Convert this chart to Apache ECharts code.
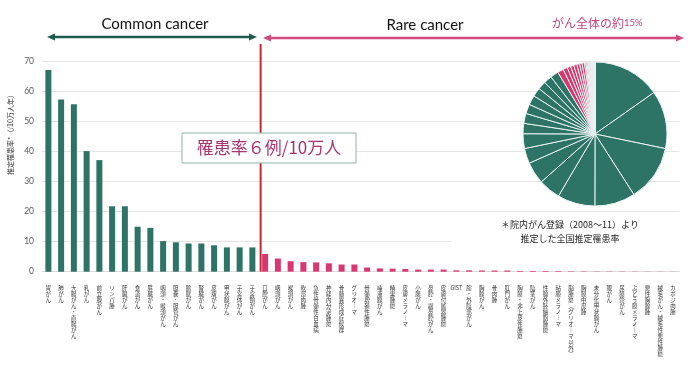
<!DOCTYPE html>
<html>
<head>
<meta charset="utf-8">
<script src="https://cdn.jsdelivr.net/npm/echarts@6/dist/echarts.min.js"></script>
<style>html,body{margin:0;padding:0;background:#fff}#c{width:700px;height:370px}</style>
</head>
<body>
<div id="c"></div>
<script>
const commonCats = ['胃がん','肺がん','大腸がん・直腸がん','乳がん','前立腺がん','リンパ腫','肝臓がん','食道がん','膵臓がん','咽頭・喉頭がん','胆嚢・胆管がん','膀胱がん','腎臓がん','皮膚がん','甲状腺がん','子宮体がん','子宮頸がん'];
const commonVals = [67.2,57.4,55.8,40.2,37.2,21.8,21.8,15.0,14.6,10.2,9.8,9.4,9.4,8.8,8.1,8.1,8.1];
const rareCats = ['口腔がん','咽頭がん','喉頭がん','軟部肉腫','急性骨髄性白血病','神経内分泌腫瘍','骨髄異形成症候群','グリオーマ','骨髄増殖性腫瘍','唾液腺がん','精巣腫瘍','皮膚メラノーマ','小腸がん','鼻腔・副鼻腔がん','皮膚付属器腫瘍','GIST','腟・外陰部がん','胸腺がん','骨肉腫','肛門がん','胸膜・非上皮性腫瘍','陰茎がん','性腺外胚細胞腫瘍','粘膜メラノーマ','脳腫瘍（グリオーマ以外）','胸膜中皮腫','未分化甲状腺がん','眼がん','尿膜管がん','ぶどう膜メラノーマ','悪性胸腺腫','絨毛がん・絨毛性悪性腫瘍','カポジ肉腫'];
const rareVals = [5.9,4.4,3.5,3.2,3.1,2.8,2.4,2.4,1.4,1.1,1.0,0.9,0.7,0.7,0.7,0.45,0.45,0.4,0.4,0.4,0.25,0.25,0.25,0.2,0.15,0.12,0.1,0.1,0.08,0.07,0.06,0.05,0.04];
const yTicks = [0,10,20,30,40,50,60,70];

const TEAL = '#2d7366';
const PINK = '#d9386f';
const categories = commonCats.concat(rareCats);
const values = commonVals.concat(rareVals);
const nCommon = commonCats.length;

function vert(s){
  if (s === 'GIST') return s;
  const map = {'ー':'｜','（':'︵','）':'︶'};
  return Array.from(s).map(c => map[c] || c).join('\n');
}

const chart = echarts.init(document.getElementById('c'), null, {renderer:'canvas'});
const option = {
  animation: false,
  backgroundColor: '#fff',
  grid: {left: 42, right: 20.5, top: 61.7, bottom: 98.3},
  xAxis: {
    type: 'category',
    data: categories,
    axisLine: {show: true, lineStyle: {color: '#dcdcdc'}},
    axisTick: {show: false},
    axisLabel: {
      interval: 0, margin: 13, fontSize: 5.5, lineHeight: 6,
      color: '#333', fontFamily: 'Noto Sans CJK JP',
      formatter: v => vert(v)
    }
  },
  yAxis: {
    type: 'value', min: yTicks[0], max: yTicks[yTicks.length-1], interval: 10,
    axisLine: {show: false}, axisTick: {show: false},
    axisLabel: {fontSize: 8.5, color: '#595959', margin: 8, fontFamily: 'Lato'},
    splitLine: {lineStyle: {color: '#e6e6e6', width: 1}}
  },
  series: [
    {
      type: 'bar', barWidth: 6,
      data: values,
      itemStyle: {color: p => p.dataIndex < nCommon ? TEAL : PINK}
    },
    {
      type: 'pie', center: [595, 134], radius: 72, startAngle: 90, clockwise: true,
      label: {show: false}, labelLine: {show: false}, silent: true,
      data: categories.map((c, i) => ({name: c, value: values[i]})),
      itemStyle: {
        color: p => p.dataIndex < nCommon ? TEAL : PINK,
        borderColor: '#eaf4f2', borderWidth: 1
      },
      z: 3
    }
  ]
};
chart.setOption(option);

const px = i => chart.convertToPixel({xAxisIndex: 0}, i);
const yTop = chart.convertToPixel({yAxisIndex: 0}, 70);
const y0 = chart.convertToPixel({yAxisIndex: 0}, 0);
const lineX = px(nCommon) - 4.5;

function arrow(x1, x2, y, color, z){
  const h = 3.5, L = 8;
  return [
    {type:'line', z:z, shape:{x1:x1+L-2, y1:y, x2:x2-L+2, y2:y}, style:{stroke:color, lineWidth:2.5}},
    {type:'polygon', z:z, shape:{points:[[x1,y],[x1+L,y-h],[x1+L,y+h]]}, style:{fill:color}},
    {type:'polygon', z:z, shape:{points:[[x2,y],[x2-L,y-h],[x2-L,y+h]]}, style:{fill:color}}
  ];
}

chart.setOption({
  graphic: [
    {type:'line', z:5, shape:{x1:lineX, y1:44, x2:lineX, y2:y0}, style:{stroke:'#c42a30', lineWidth:2}},
    ...arrow(47, 257, 37, '#1d5b4b', 6),
    ...arrow(263, 684, 38, '#d24b7e', 6),
    {type:'text', z:6, x:155, y:24, style:{text:'Common cancer', font:'15px Lato', fill:'#111', align:'center', verticalAlign:'middle'}},
    {type:'text', z:6, x:425, y:25, style:{text:'Rare cancer', font:'15px Lato', fill:'#111', align:'center', verticalAlign:'middle'}},
    {type:'text', z:6, x:552, y:23, style:{
      text:'{a|がん全体の約}{b|15%}', align:'left', verticalAlign:'middle',
      rich:{a:{fontSize:12, fontFamily:'Noto Sans CJK JP', fill:'#c2447f'}, b:{fontSize:9.5, fontFamily:'Lato', fill:'#c2447f'}}
    }},
    {type:'rect', z:7, shape:{x:182, y:133, width:174, height:30}, style:{fill:'#fff', stroke:'#8fb3ab', lineWidth:1}},
    {type:'text', z:8, x:269, y:148, style:{text:'罹患率６例/10万人', font:'17px "Noto Sans CJK JP"', fill:'#a8356f', align:'center', verticalAlign:'middle'}},
    {type:'rect', z:7, shape:{x:452, y:215, width:243, height:32}, style:{fill:'#fff'}},
    {type:'text', z:8, x:570, y:225, style:{text:'＊院内がん登録（2008～11）より', font:'9px "Noto Sans CJK JP"', fill:'#222', align:'center', verticalAlign:'middle'}},
    {type:'text', z:8, x:570, y:239, style:{text:'推定した全国推定罹患率', font:'9px "Noto Sans CJK JP"', fill:'#222', align:'center', verticalAlign:'middle'}},
    {type:'text', z:8, x:10, y:133, rotation:Math.PI/2, style:{text:'推定罹患率*（/10万人年）', font:'7px "Noto Sans CJK JP"', fill:'#333', align:'center', verticalAlign:'middle'}}
  ]
});
</script>
</body>
</html>
